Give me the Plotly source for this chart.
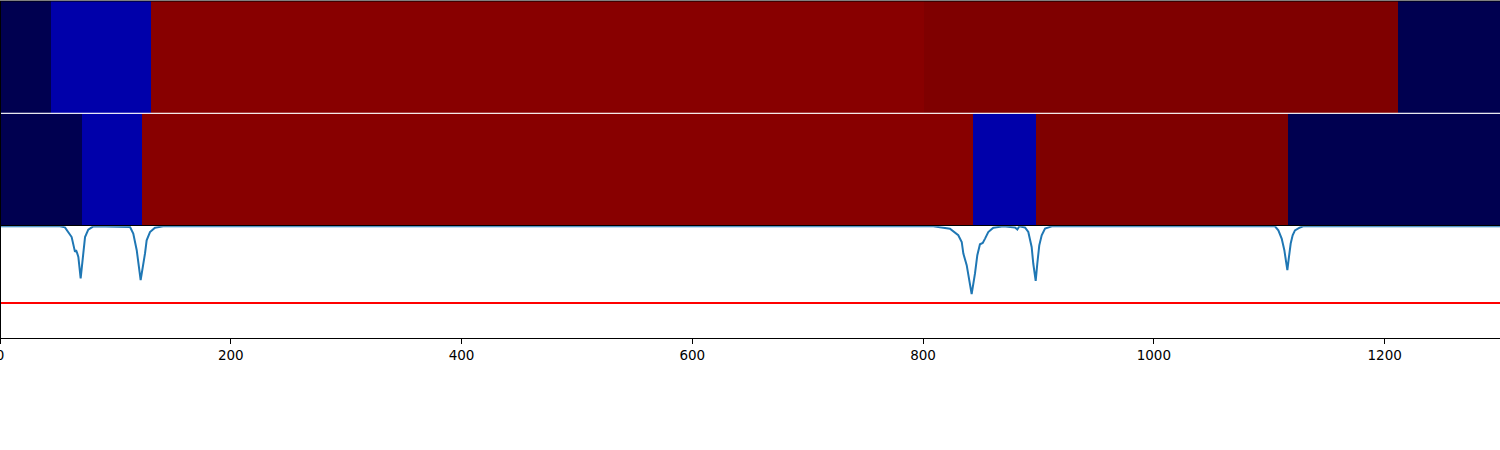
import plotly.graph_objects as go

# state colours (navy, blue, red, dark red)
STATE_COLORS = ["#000050", "#0000aa", "#880000", "#7f0000"]

# row 1 segments: edges along x and state per segment
row1_edges = [0, 44, 131, 801, 1212, 1300]
row1_states = [0, 1, 2, 3, 0]

# row 2 segments
row2_edges = [0, 71, 123, 843, 898, 1116, 1300]
row2_states = [0, 1, 2, 1, 3, 0]

# signal curve
sig_x = [0, 52, 56.3, 62.1, 65, 65.9, 66.8, 67.9, 69.9, 72.2, 73.7, 76.5, 80.9,
         112.7, 115.5, 118.5, 121.9, 125.7, 127.1, 130, 134.3, 141.3,
         808.9, 823.3, 830.5, 833.5, 834.9, 837.8, 840.1, 842.1, 845, 847, 849.3,
         851.7, 853.7, 856.5, 860.9, 869.5, 879.7, 881.7, 883.4, 888.3, 891.2,
         894.1, 895.5, 897.6, 899, 900.7, 902.8, 905.7, 911.5,
         1105, 1107.9, 1110.8, 1113.1, 1114.5, 1115.7, 1117.1, 1118.6, 1120.3,
         1122.3, 1126.7, 1129.3, 1300]
sig_y = [1.0, 1.0, 0.991, 0.904, 0.771, 0.786, 0.762, 0.726, 0.533, 0.786, 0.904, 0.971, 1.0,
         0.994, 0.935, 0.786, 0.518, 0.759, 0.875, 0.949, 0.988, 1.0,
         1.0, 0.979, 0.920, 0.860, 0.756, 0.652, 0.518, 0.393, 0.578, 0.741, 0.839,
         0.851, 0.890, 0.949, 0.988, 1.0, 0.990, 0.971, 1.0, 0.990, 0.949,
         0.815, 0.667, 0.512, 0.667, 0.830, 0.920, 0.979, 1.0,
         1.0, 0.964, 0.890, 0.786, 0.696, 0.607, 0.726, 0.846, 0.920,
         0.964, 0.990, 1.0, 1.0]

threshold = 0.3125
x_ticks = [0, 200, 400, 600, 800, 1000, 1200]

n = len(STATE_COLORS) - 1
cscale = []
for i, c in enumerate(STATE_COLORS):
    cscale.append([i / (n + 1), c])
    cscale.append([(i + 1) / (n + 1), c])

fig = go.Figure()

fig.add_trace(go.Heatmap(
    z=[row1_states], x=row1_edges, y=[0, 1],
    colorscale=cscale, zmin=-0.5, zmax=n + 0.5, showscale=False,
    xaxis="x", yaxis="y"))
fig.add_trace(go.Heatmap(
    z=[row2_states], x=row2_edges, y=[0, 1],
    colorscale=cscale, zmin=-0.5, zmax=n + 0.5, showscale=False,
    xaxis="x2", yaxis="y2"))

fig.add_trace(go.Scatter(
    x=sig_x, y=sig_y, mode="lines",
    line=dict(color="#1f77b4", width=2),
    xaxis="x3", yaxis="y3"))
fig.add_trace(go.Scatter(
    x=[0, 1300], y=[threshold, threshold], mode="lines",
    line=dict(color="red", width=2),
    xaxis="x3", yaxis="y3"))

hidden = dict(showticklabels=False, ticks="", showgrid=False, zeroline=False)

fig.update_layout(
    width=1500, height=450,
    margin=dict(l=0, r=0, t=1, b=112, autoexpand=False),
    paper_bgcolor="white", plot_bgcolor="white",
    showlegend=False,
    xaxis=dict(domain=[0, 1], range=[0, 1300], anchor="y", **hidden),
    yaxis=dict(domain=[0.6686, 1.0], range=[0, 1], anchor="x", **hidden),
    xaxis2=dict(domain=[0, 1], range=[0, 1300], anchor="y2", **hidden),
    yaxis2=dict(domain=[0.3343, 0.6657], range=[0, 1], anchor="x2", **hidden),
    xaxis3=dict(domain=[0, 1], range=[0, 1300], anchor="y3",
                tickvals=x_ticks, ticks="outside", ticklen=5, tickcolor="black",
                showline=True, linecolor="black", linewidth=1, mirror=True,
                showgrid=False, zeroline=False, ticklabeloverflow="allow",
                tickfont=dict(family="DejaVu Sans", size=13.5, color="black")),
    yaxis3=dict(domain=[0, 0.3314], range=[0, 1], anchor="x3",
                showline=True, linecolor="black", linewidth=1, mirror=True,
                **hidden),
    shapes=[
        # top spine and left spine over all panels
        dict(type="line", xref="paper", yref="paper", x0=0, x1=1, y0=1, y1=1,
             line=dict(color="black", width=1)),
        dict(type="line", xref="paper", yref="paper", x0=0, x1=0, y0=0, y1=1,
             line=dict(color="black", width=2)),
    ],
)

fig.write_html("out.html", config={"displayModeBar": False},
               post_script="document.body.style.margin='0';")
